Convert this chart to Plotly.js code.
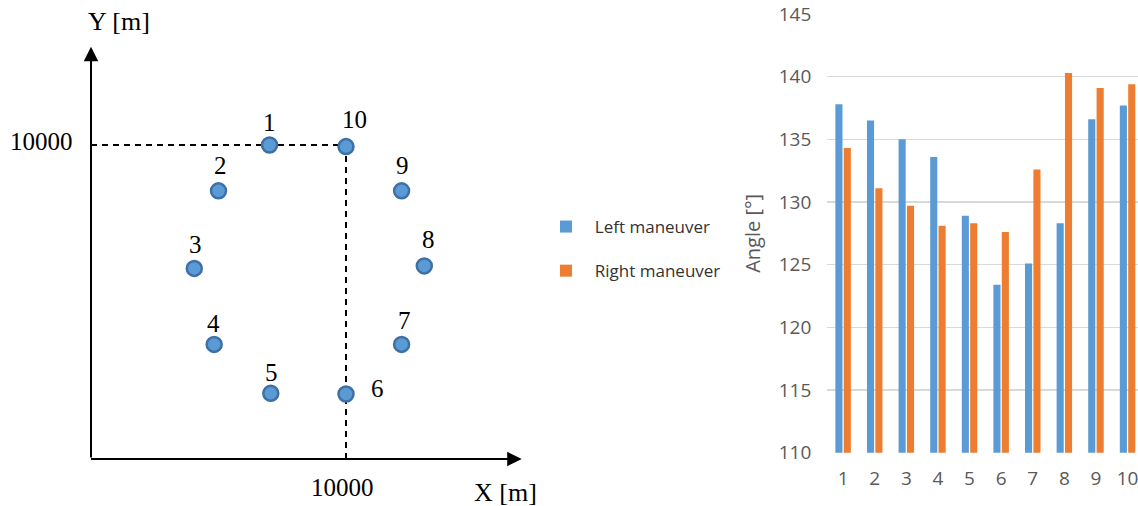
<!DOCTYPE html>
<html>
<head>
<meta charset="utf-8">
<script src="https://cdn.plot.ly/plotly-3.0.1.min.js"></script>
<style>html,body{margin:0;padding:0;background:#fff;}#chart{width:1138px;height:506px;}</style>
</head>
<body>
<div id="chart"></div>
<script>
// ---- Bar chart data ----
const categories = ['1','2','3','4','5','6','7','8','9','10'];
const leftManeuver  = [137.8, 136.5, 135.0, 133.6, 128.9, 123.4, 125.1, 128.3, 136.6, 137.7];
const rightManeuver = [134.3, 131.1, 129.7, 128.1, 128.3, 127.6, 132.6, 140.3, 139.1, 139.4];
const seriesNames = ['Left maneuver', 'Right maneuver'];

// ---- Schematic data (positions in metres) ----
const pointLabels = ['1','2','3','4','5','6','7','8','9','10'];
const pointX = [7000, 5000, 4050, 4830, 7050, 10000, 12180, 13070, 12180, 10000];
const pointY = [10000, 8540, 6070, 3650, 2090, 2070, 3650, 6150, 8540, 9950];
const refValue = 10000;
const refLabel = '10000';

// layout-only constants for the schematic
const xTip = 16890, yTip = 13131;
const labelShift = [[0,23],[2,25],[1,24],[-1,21],[1,21],[31,6],[3,24],[4,26],[1,25],[8,27]];

const serif = 'Liberation Serif, Times New Roman, serif';
const sans = 'Open Sans, sans-serif';

const traces = [
  {type:'bar', x:categories, y:leftManeuver, name:'\u00a0\u00a0' + seriesNames[0], legendgroup:'a',
   marker:{color:'#5B9BD5'}, xaxis:'x', yaxis:'y', hoverinfo:'y'},
  {type:'bar', x:categories, y:rightManeuver, name:'\u00a0\u00a0' + seriesNames[1], legendgroup:'b',
   marker:{color:'#ED7D31'}, xaxis:'x', yaxis:'y', hoverinfo:'y'},
  {type:'scatter', mode:'markers', x:pointX, y:pointY, xaxis:'x2', yaxis:'y2', showlegend:false,
   marker:{size:15, color:'#5B9BD5', line:{color:'#3E70A6', width:2.5}}, hoverinfo:'skip'}
];

const annotations = [];
pointLabels.forEach((t,i)=>{
  annotations.push({x:pointX[i], y:pointY[i], xref:'x2', yref:'y2', text:t, showarrow:false,
    xanchor:'center', yanchor:'middle',
    xshift:labelShift[i][0], yshift:labelShift[i][1], font:{family:serif, size:25, color:'#000'}});
});
// axis arrows
annotations.push({x:0, y:yTip, ax:0, ay:0, xref:'x2', yref:'y2', axref:'x2', ayref:'y2', text:'',
  showarrow:true, arrowhead:2, arrowsize:1.45, arrowwidth:2, arrowcolor:'#000', standoff:0, startstandoff:0});
annotations.push({x:xTip, y:0, ax:-60, ay:0, xref:'x2', yref:'y2', axref:'x2', ayref:'y2', text:'',
  showarrow:true, arrowhead:2, arrowsize:1.45, arrowwidth:2, arrowcolor:'#000', standoff:0, startstandoff:0});
// reference labels
annotations.push({x:0, y:refValue, xref:'x2', yref:'y2', text:refLabel, showarrow:false, xanchor:'right',
  yanchor:'middle', xshift:-16, yshift:4, font:{family:serif, size:25, color:'#000'}});
annotations.push({x:refValue, y:0, xref:'x2', yref:'y2', text:refLabel, showarrow:false,
  xanchor:'center', yanchor:'middle', xshift:-4, yshift:-28, font:{family:serif, size:25, color:'#000'}});
// axis names
annotations.push({x:119/1138, y:1-22/506, xref:'paper', yref:'paper', text:'Y [m]', showarrow:false,
  xanchor:'center', yanchor:'middle', font:{family:serif, size:26, color:'#000'}});
annotations.push({x:505/1138, y:1-492/506, xref:'paper', yref:'paper', text:'X [m]', showarrow:false,
  xanchor:'center', yanchor:'middle', font:{family:serif, size:26, color:'#000'}});

const shapes = [
  {type:'line', xref:'x2', yref:'y2', x0:0, y0:refValue, x1:refValue, y1:refValue, layer:'below',
   line:{color:'#000', width:2, dash:'6px,5px'}},
  {type:'line', xref:'x2', yref:'y2', x0:refValue, y0:refValue, x1:refValue, y1:0, layer:'below',
   line:{color:'#000', width:2, dash:'6px,5px'}}
];

const layout = {
  width:1138, height:506,
  margin:{l:0, r:0, t:0, b:0, pad:0},
  paper_bgcolor:'#fff', plot_bgcolor:'rgba(0,0,0,0)',
  barmode:'group', bargap:0.47, bargroupgap:0.15,
  showlegend:true,
  legend:{x:546/1138, y:1-209/506, xanchor:'left', yanchor:'top', traceorder:'grouped', tracegroupgap:19,
    font:{family:sans, size:17, color:'#333'}, bgcolor:'rgba(0,0,0,0)'},
  xaxis:{domain:[827.3/1138, 1], anchor:'y', type:'category', range:[-0.5, 9.33], showgrid:false,
    showline:false, zeroline:false, ticks:'', ticklabelstandoff:12,
    tickfont:{family:sans, size:19, color:'#595959'}, fixedrange:true},
  yaxis:{domain:[(506-452.7)/506, (506-14)/506], anchor:'x', range:[110,145], dtick:5,
    showgrid:true, gridcolor:'#d9d9d9', gridwidth:1.5, zeroline:false, showline:false, ticks:'',
    ticklabelstandoff:15, tickfont:{family:sans, size:19, color:'#595959'},
    title:{text:'Angle [°]', standoff:12, font:{family:sans, size:20, color:'#595959'}}, fixedrange:true},
  xaxis2:{domain:[0, 0.5], anchor:'y2', range:[-3569, 18745], visible:false, fixedrange:true},
  yaxis2:{domain:[0, 1], anchor:'x2', range:[-1497, 14618], visible:false, fixedrange:true},
  annotations:annotations,
  shapes:shapes
};

Plotly.newPlot('chart', traces, layout, {displayModeBar:false, staticPlot:true});
</script>
</body>
</html>
